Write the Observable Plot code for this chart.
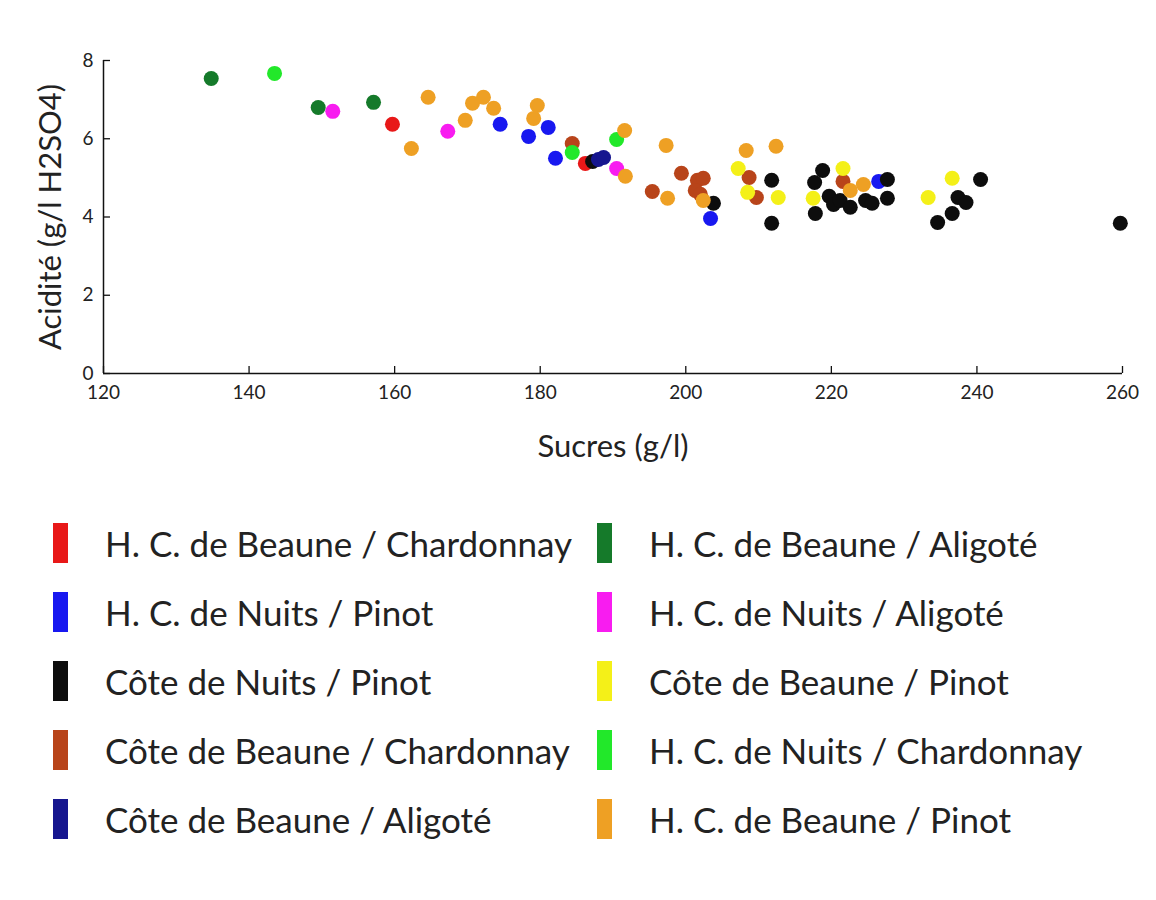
<!DOCTYPE html>
<html>
<head>
<meta charset="utf-8">
<script src="https://cdn.jsdelivr.net/npm/d3@7"></script>
<script src="https://cdn.jsdelivr.net/npm/@observablehq/plot@0.6"></script>
<style>
  html, body { margin: 0; padding: 0; background: #fff; }
  #wrap { position: relative; width: 1156px; height: 900px; font-family: Lato, "Open Sans", sans-serif; }
  #legend { position: absolute; left: 0; top: 0; width: 1156px; }
  .item { position: absolute; height: 44px; display: flex; align-items: center; }
  .sw { width: 15px; height: 40px; margin-right: 37px; flex: none; }
  .lab { font-size: 35px; color: #222; white-space: nowrap; }
</style>
</head>
<body>
<div id="wrap"><div id="chart"></div><div id="legend"></div></div>
<script>
// Categories (legend order) and colours
const categories = [
  "H. C. de Beaune / Chardonnay",
  "H. C. de Nuits / Pinot",
  "Côte de Nuits / Pinot",
  "Côte de Beaune / Chardonnay",
  "Côte de Beaune / Aligoté",
  "H. C. de Beaune / Aligoté",
  "H. C. de Nuits / Aligoté",
  "Côte de Beaune / Pinot",
  "H. C. de Nuits / Chardonnay",
  "H. C. de Beaune / Pinot"
];
const colors = ["#e81818", "#1818f0", "#0d0d0d", "#b8441a", "#16168f",
                "#157a2a", "#f81cf0", "#f4f018", "#22e82a", "#eea024"];

// Series values: sucres (g/l) and acidité (g/l H2SO4)
const hcBeauneChardonnaySucres = [159.7, 186.2];
const hcBeauneChardonnayAcidite = [6.37, 5.37];

const hcNuitsPinotSucres = [174.5, 178.4, 181.1, 182.1, 203.4, 226.5];
const hcNuitsPinotAcidite = [6.37, 6.06, 6.29, 5.50, 3.96, 4.91];

const coteNuitsPinotSucres = [187.2, 203.8, 211.8, 211.8, 218.8, 217.7, 217.8, 219.7, 220.3, 221.2,
                              222.6, 224.7, 225.6, 227.7, 227.7, 234.6, 236.6, 237.4, 238.5, 240.5, 259.7];
const coteNuitsPinotAcidite = [5.42, 4.35, 4.94, 3.84, 5.19, 4.88, 4.09, 4.53, 4.32, 4.42,
                               4.25, 4.42, 4.35, 4.96, 4.48, 3.86, 4.09, 4.50, 4.37, 4.96, 3.84];

const coteBeauneChardonnaySucres = [184.4, 195.4, 199.4, 201.6, 202.4, 201.3, 202.0, 208.7, 209.7, 221.6];
const coteBeauneChardonnayAcidite = [5.88, 4.65, 5.12, 4.94, 4.99, 4.68, 4.58, 5.01, 4.50, 4.91];

const coteBeauneAligoteSucres = [188.0, 188.7];
const coteBeauneAligoteAcidite = [5.47, 5.52];

const hcBeauneAligoteSucres = [134.8, 149.5, 157.1];
const hcBeauneAligoteAcidite = [7.54, 6.80, 6.93];

const hcNuitsAligoteSucres = [151.5, 167.3, 190.5];
const hcNuitsAligoteAcidite = [6.70, 6.19, 5.24];

const coteBeaunePinotSucres = [207.2, 208.5, 212.7, 217.5, 221.6, 233.3, 236.6];
const coteBeaunePinotAcidite = [5.24, 4.63, 4.50, 4.48, 5.24, 4.50, 4.99];

const hcNuitsChardonnaySucres = [143.5, 184.4, 190.5];
const hcNuitsChardonnayAcidite = [7.67, 5.65, 5.98];

const hcBeaunePinotSucres = [162.3, 164.6, 169.7, 170.7, 172.2, 173.6, 179.6, 179.1, 191.6, 191.7,
                             197.3, 197.5, 202.4, 208.3, 212.4, 222.6, 224.4];
const hcBeaunePinotAcidite = [5.75, 7.06, 6.47, 6.91, 7.06, 6.78, 6.85, 6.52, 6.21, 5.04,
                              5.83, 4.48, 4.42, 5.70, 5.81, 4.68, 4.83];

// Tick labels
const xTicks = [120, 140, 160, 180, 200, 220, 240, 260];
const yTicks = [0, 2, 4, 6, 8];
const xLabel = "Sucres (g/l)";
const yLabel = "Acidité (g/l H2SO4)";

// Build a table for the library
const seriesList = [
  [hcBeauneChardonnaySucres, hcBeauneChardonnayAcidite],
  [hcNuitsPinotSucres, hcNuitsPinotAcidite],
  [coteNuitsPinotSucres, coteNuitsPinotAcidite],
  [coteBeauneChardonnaySucres, coteBeauneChardonnayAcidite],
  [coteBeauneAligoteSucres, coteBeauneAligoteAcidite],
  [hcBeauneAligoteSucres, hcBeauneAligoteAcidite],
  [hcNuitsAligoteSucres, hcNuitsAligoteAcidite],
  [coteBeaunePinotSucres, coteBeaunePinotAcidite],
  [hcNuitsChardonnaySucres, hcNuitsChardonnayAcidite],
  [hcBeaunePinotSucres, hcBeaunePinotAcidite]
];
const data = [];
seriesList.forEach(([xs, ys], i) => xs.forEach((x, j) => data.push({sucres: x, acidite: ys[j], cat: categories[i]})));

const W = 1156, H = 468, mL = 103, mR = 34, mT = 60, mB = 95;
const plotW = W - mL - mR, plotH = H - mT - mB, tickLen = 7;

const chart = Plot.plot({
  width: W,
  height: H,
  marginLeft: mL,
  marginRight: mR,
  marginTop: mT,
  marginBottom: mB,
  style: {fontFamily: "Lato, 'Open Sans', sans-serif", color: "#222", background: "transparent"},
  x: {domain: [120, 260]},
  y: {domain: [0, 8]},
  color: {domain: categories, range: colors},
  marks: [
    // inward tick marks
    Plot.tickX(xTicks, {x: d => d, stroke: "#111", strokeWidth: 1.3, insetTop: plotH - tickLen}),
    Plot.tickY(yTicks, {y: d => d, stroke: "#111", strokeWidth: 1.3, insetRight: plotW - tickLen}),
    Plot.axisX({ticks: xTicks, tickSize: 0, tickPadding: 12, fontSize: 19, label: null}),
    Plot.axisY({ticks: yTicks, tickSize: 0, tickPadding: 10, fontSize: 19, label: null}),
    Plot.ruleX([120], {stroke: "#111", strokeWidth: 1.5}),
    Plot.ruleY([0], {stroke: "#111", strokeWidth: 1.5}),
    Plot.text([xLabel], {frameAnchor: "bottom", lineAnchor: "middle", dy: 74, fontSize: 31, fill: "#222"}),
    Plot.text([yLabel], {frameAnchor: "left", textAnchor: "middle", lineAnchor: "middle", dx: -52, rotate: -90, fontSize: 31, fill: "#222"}),
    Plot.dot(data, {x: "sucres", y: "acidite", fill: "cat", r: 7.5})
  ]
});
document.getElementById("chart").appendChild(chart);

// Legend (two columns)
const legend = document.getElementById("legend");
categories.forEach((c, i) => {
  const col = Math.floor(i / 5), row = i % 5;
  const item = document.createElement("div");
  item.className = "item";
  item.style.left = (col === 0 ? 53 : 597) + "px";
  item.style.top = (521 + row * 69) + "px";
  const sw = document.createElement("div");
  sw.className = "sw";
  sw.style.background = colors[i];
  const lab = document.createElement("div");
  lab.className = "lab";
  lab.textContent = c;
  item.appendChild(sw);
  item.appendChild(lab);
  legend.appendChild(item);
});
</script>
</body>
</html>
